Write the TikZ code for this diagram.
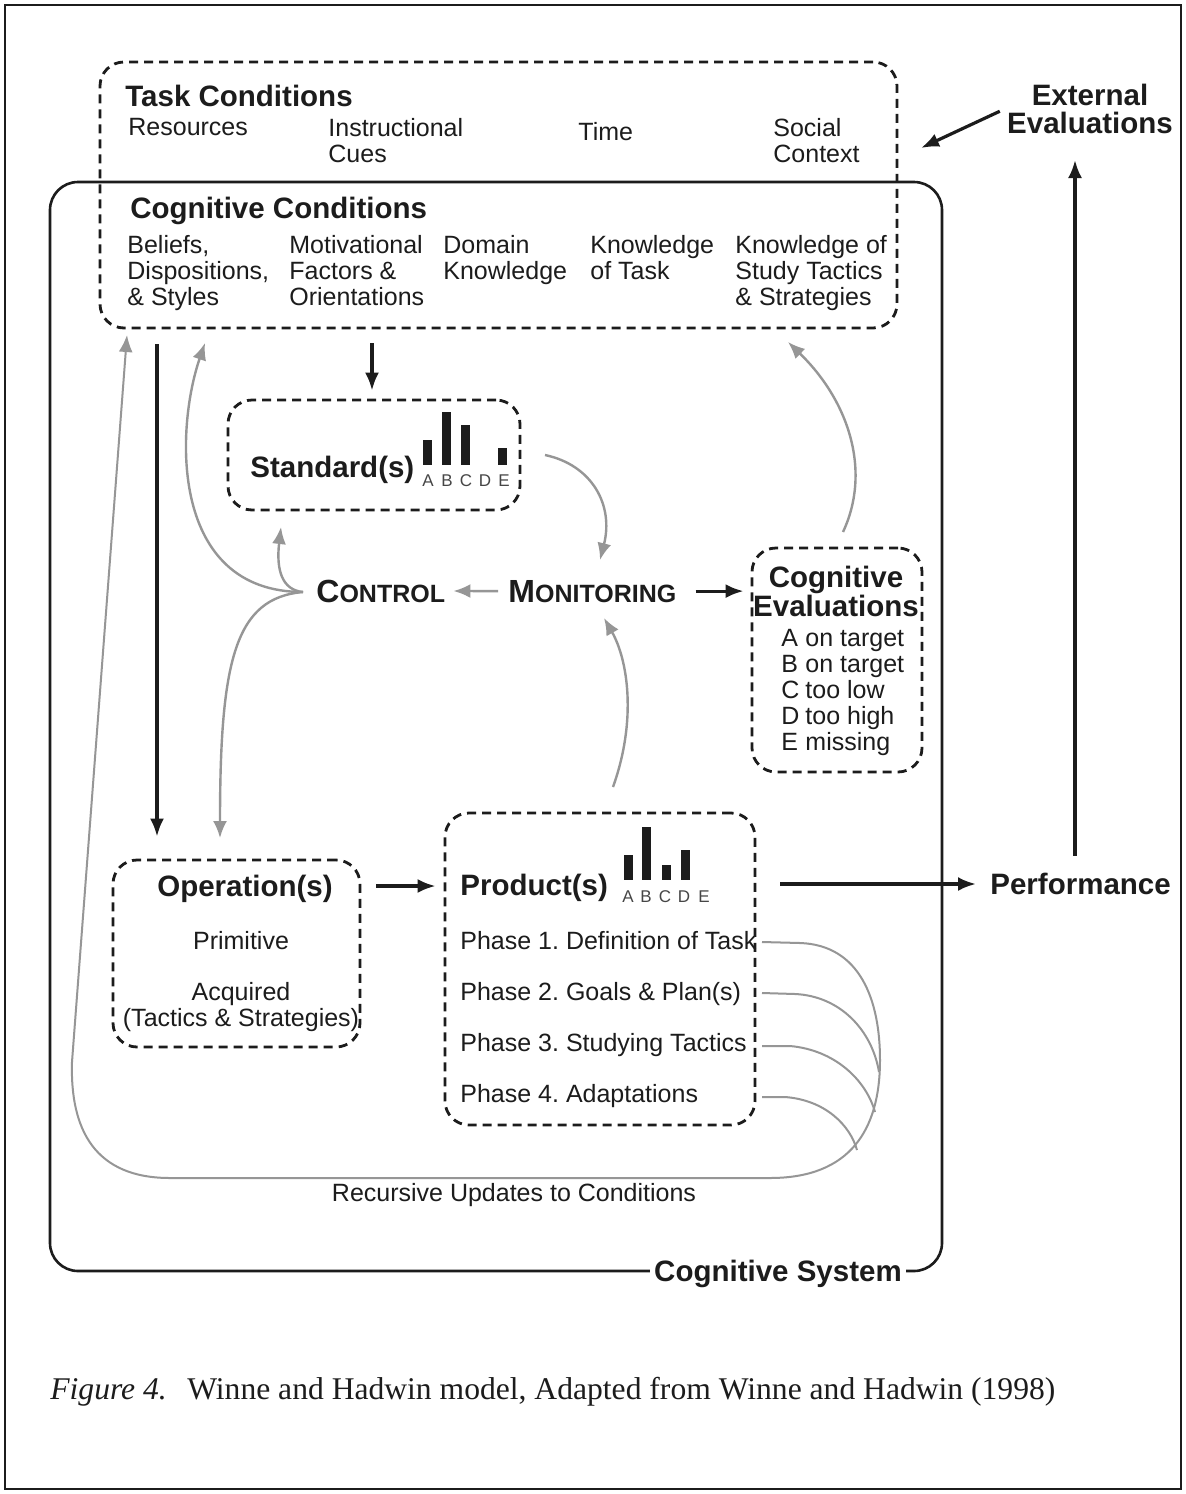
\documentclass[tikz,border=0pt]{standalone}
\usepackage{fontspec}
\setmainfont{Liberation Sans}
\newfontfamily\capfont{Liberation Serif}
\usetikzlibrary{arrows.meta,fit,calc}
\frenchspacing

\definecolor{ink}{RGB}{28,28,28}
\definecolor{flow}{RGB}{150,150,150}
\definecolor{lbl}{RGB}{70,70,70}

\newcommand\hdfont{\bfseries\fontsize{14.75}{14.5}\selectfont}
\newcommand\txfont{\fontsize{12.5}{13}\selectfont}
\newcommand\chfont{\fontsize{8.5}{8.5}\selectfont}
\newcommand\bigsc{\fontsize{16}{16}\selectfont}
\newcommand\smlsc{\fontsize{12.5}{12.5}\selectfont}

\begin{document}
\begin{tikzpicture}[x=0.5pt,y=-0.5pt,
  every node/.style={inner sep=0pt, text=ink},
  dbox/.style={draw=ink, dash pattern=on 4.5pt off 3pt, line width=1.4pt,
               rounded corners=12pt, inner sep=0pt},
  sysline/.style={draw=ink, line width=1.3pt, rounded corners=14pt},
  blk/.style={draw=ink, line width=1.6pt, -{Latex[length=9pt,width=7pt]}},
  gry/.style={draw=flow, line width=1.2pt, -{Latex[length=8.5pt,width=7pt]}},
  rec/.style={draw=flow, line width=1pt},
  head/.style={font=\hdfont},
  body/.style={font=\txfont, align=left},
  chl/.style={font=\chfont, text=lbl}]

% page and frame
\fill[white] (0,0) rectangle (1185,1494);
\useasboundingbox (0,0) rectangle (1185,1494);
\draw[ink, line width=1pt] (5,5) rectangle (1181,1489);

% ---------- task and cognitive conditions ----------
\node[dbox, fit={(100,62) (897,328)}] (tc) {};
\node[head, anchor=north west] (tch) at (125,85) {Task Conditions};
\node[body, anchor=north west] (res) at (128,118) {Resources};
\node[body, anchor=north west] (ins) at (328,118) {Instructional\\Cues};
\node[body, anchor=north west] (tim) at (578,122) {Time};
\node[body, anchor=north west] (soc) at (773,118) {Social\\Context};

\node[head, anchor=north west] (cch) at (130,197) {Cognitive Conditions};
\node[body, anchor=north west] (bel) at (127,235) {Beliefs,\\Dispositions,\\\& Styles};
\node[body, anchor=north west] (mot) at (289,235) {Motivational\\Factors \&\\Orientations};
\node[body, anchor=north west] (dom) at (443,235) {Domain\\Knowledge};
\node[body, anchor=north west] (kot) at (590,235) {Knowledge\\of Task};
\node[body, anchor=north west] (kst) at (735,235) {Knowledge of\\Study Tactics\\\& Strategies};

% ---------- cognitive system outline ----------
\coordinate (sysb) at (0,1271);
\node[head, anchor=base] (csys) at (778,1281) {Cognitive System};
\draw[sysline] ([xshift=-2pt]csys.west |- sysb) -- (50,1271) -- (50,182)
  -- (942,182) -- (942,1271) -- ([xshift=2pt]csys.east |- sysb);

% ---------- external evaluations and performance ----------
\node[font=\bfseries\fontsize{14.75}{14}\selectfont, align=center, anchor=north] (ext) at (1090,84) {External\\Evaluations};
\coordinate (extin) at (921,148);
\draw[blk] ([xshift=-3.5pt,yshift=-1pt]ext.west) -- (extin);

\node[head, anchor=west] (perf) at (990,884) {Performance};
\coordinate (perfup) at (1075,160);
\draw[blk] (perfup |- perf.north) ++(0,-17) -- (perfup);

% ---------- standards ----------
\node[dbox, fit={(228,400) (520,510)}] (std) {};
\node[head, anchor=base west] (stdh) at (250,477) {Standard(s)};
\fill[ink] (423,440) rectangle (432,465);
\fill[ink] (442,412) rectangle (451,465);
\fill[ink] (461,425) rectangle (470,465);
\fill[ink] (498,448) rectangle (507,465);
\node[chl] (sa) at (428,481) {A};
\node[chl] (sb) at (447,481) {B};
\node[chl] (sc) at (466,481) {C};
\node[chl] (sd) at (485,481) {D};
\node[chl] (se) at (504,481) {E};

% ---------- control and monitoring ----------
\node[anchor=base west, font=\bfseries] (ctl) at (316,602) {{\bigsc C}{\smlsc ONTROL}};
\node[anchor=base west, font=\bfseries] (mon) at (508,602) {{\bigsc M}{\smlsc ONITORING}};

% ---------- cognitive evaluations ----------
\node[dbox, fit={(752,548) (922,772)}] (cev) {};
\node[font=\bfseries\fontsize{14.75}{14.5}\selectfont, align=center, anchor=north] (cevh) at (836,566) {Cognitive\\Evaluations};
\node[font=\txfont, anchor=north west] (cevl) at (781,628)
  {\begin{tabular}{@{}l@{\hspace{3pt}}l@{}}
   A & on target\\ B & on target\\ C & too low\\ D & too high\\ E & missing
   \end{tabular}};

% ---------- operations ----------
\node[dbox, fit={(113,860) (360,1047)}] (ops) {};
\node[head, anchor=north] (opsh) at (245,875) {Operation(s)};
\node[body, anchor=north] (prim) at (241,931) {Primitive};
\node[font=\txfont, align=center, anchor=north] (acq) at (241,982) {Acquired\\(Tactics \& Strategies)};

% ---------- products ----------
\node[dbox, fit={(445,813) (755,1125)}] (prd) {};
\node[head, anchor=base west] (prdh) at (460,895) {Product(s)};
\fill[ink] (624,855) rectangle (633,880);
\fill[ink] (642,827) rectangle (651,880);
\fill[ink] (662,865) rectangle (671,880);
\fill[ink] (681,850) rectangle (690,880);
\node[chl] (pa) at (628,897) {A};
\node[chl] (pb) at (646,897) {B};
\node[chl] (pc) at (665,897) {C};
\node[chl] (pd) at (684,897) {D};
\node[chl] (pe) at (704,897) {E};
\node[body, anchor=north west] (ph1) at (460,931) {Phase 1. Definition of Task};
\node[body, anchor=north west] (ph2) at (460,982) {Phase 2. Goals \& Plan(s)};
\node[body, anchor=north west] (ph3) at (460,1033) {Phase 3. Studying Tactics};
\node[body, anchor=north west] (ph4) at (460,1084) {Phase 4. Adaptations};

\node[font=\txfont] (recl) at (514,1195) {Recursive Updates to Conditions};

% ---------- black flow ----------
\draw[blk] (tc.south -| 157,0) ++(0,15) -- ([yshift=11pt]ops.north -| 157,0);
\draw[blk] (tc.south -| 372,0) ++(0,14) -- ([yshift=4pt]std.north -| 372,0);
\draw[blk, shorten <=9.5pt, shorten >=3.5pt] (mon.east) -- (cev.west |- mon.east);
\draw[blk, shorten <=7.5pt, shorten >=4pt] (ops.east |- 0,886) -- (prd.west |- 0,886);
\draw[blk, shorten <=12pt, shorten >=7pt] (prd.east |- perf.west) -- (perf.west);

% ---------- grey feedback ----------
\coordinate (jct) at (303,592);
\draw[gry, shorten <=5pt, shorten >=4pt] (mon.west) -- (ctl.east);
\draw[gry] (jct) .. controls (170,592) and (175,430) .. (205,343);
\draw[gry] (jct) .. controls (282,590) and (276,570) .. (281,527);
\draw[gry] (jct) .. controls (235,598) and (220,660) .. (220,838);
\draw[gry] (545,455) .. controls (592,465) and (614,505) .. (600,560);
\draw[gry] (613,787) .. controls (637,720) and (628,660) .. (604,618);
\draw[gry] (843,532) .. controls (872,470) and (848,400) .. (788,342);

% recursive updates back to the conditions
\draw[rec] (762,942) -- (800,943) .. controls (860,945) and (880,1000) .. (880,1060)
  .. controls (880,1130) and (850,1178) .. (770,1178) -- (170,1178)
  .. controls (95,1178) and (70,1130) .. (72,1062);
\draw[gry, line width=1pt] (72,1062) -- (127,335);
\draw[rec] (762,993) -- (795,994) .. controls (840,996) and (872,1030) .. (879,1072);
\draw[rec] (762,1046) -- (790,1046) .. controls (835,1050) and (866,1080) .. (875,1112);
\draw[rec] (762,1097) -- (785,1097) .. controls (825,1100) and (850,1125) .. (857,1150);

% ---------- caption ----------
\node[anchor=base west, font=\capfont\fontsize{15.8}{15.8}\selectfont] (cap) at (50,1399)
  {\textit{Figure 4.}\hspace{0.4em} Winne and Hadwin model, Adapted from Winne and Hadwin (1998)};
\end{tikzpicture}
\end{document}
